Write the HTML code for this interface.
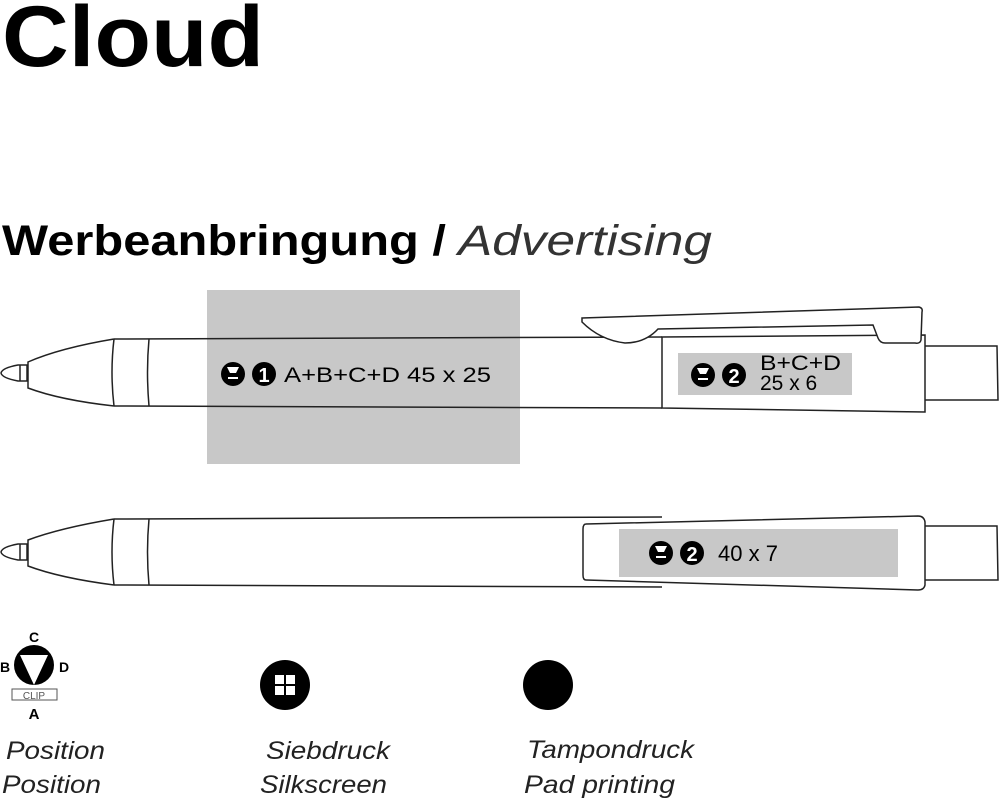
<!DOCTYPE html>
<html><head><meta charset="utf-8"><style>
body{margin:0;background:#fff;width:1000px;height:800px;overflow:hidden;font-family:"Liberation Sans",Arial,sans-serif}
</style></head><body>
<svg width="1000" height="800" viewBox="0 0 1000 800" xmlns="http://www.w3.org/2000/svg" font-family="Liberation Sans, Arial, sans-serif">
<text x="2" y="66" font-size="86" font-weight="bold" fill="#000" textLength="262" lengthAdjust="spacingAndGlyphs">Cloud</text>
<text x="2" y="255" font-size="43" font-weight="bold" fill="#000" textLength="444" lengthAdjust="spacingAndGlyphs">Werbeanbringung /</text>
<text x="458" y="255" font-size="43" font-style="italic" fill="#333" textLength="254" lengthAdjust="spacingAndGlyphs">Advertising</text>

<g fill="none" stroke="#222" stroke-width="1.5">
<rect x="207" y="290" width="313" height="174" fill="#c8c8c8" stroke="none"/>
<path d="M114,339 L662,337 M114,406 L662,408"/>
<path d="M114,339 Q60,348 28,362 L28,388 Q60,400 114,406"/>
<path d="M114,339 Q110,372 114,406 M149,339 Q146,372 149,406"/>
<path d="M27,365 L18,365 Q2,368 1,373 Q2,378 18,381 L27,381 Z M20,365 L20,381"/>
<path d="M662,337 L662,408 L925,412 L925,335 Z" fill="#fff"/>
<path d="M925,346 L997,346 L998,400 L925,400"/>
<path d="M582,318 L919,307 Q923,308 922,312 L921,340 Q920,344 915,343 L885,343 Q880,343 878,338 L873,325 L658,329 Q645,343 625,343 Q600,340 582,322 Z" fill="#fff"/>
<rect x="678" y="353" width="174" height="42" fill="#c8c8c8" stroke="none"/>
<path d="M114,519 L662,517 M114,585 L662,587"/>
<path d="M114,519 Q60,528 28,540 L28,566 Q60,578 114,585"/>
<path d="M114,519 Q110,552 114,585 M149,519 Q146,552 149,585"/>
<path d="M27,544 L18,544 Q2,547 1,552 Q2,557 18,560 L27,560 Z M20,544 L20,560"/>
<path d="M925,526 L997,526 L998,580 L925,580"/>
<path d="M586,524 L918,516 Q924,516 925,522 L925,585 Q924,590 918,590 L586,580 Q583,580 583,575 L583,529 Q583,524 586,524 Z" fill="#fff"/>
<rect x="619" y="529" width="279" height="48" fill="#c8c8c8" stroke="none"/>
</g>

<g fill="#000">
<circle cx="233" cy="374" r="12"/><circle cx="264" cy="374" r="12"/>
<text x="264" y="382" font-size="20" font-weight="bold" fill="#fff" text-anchor="middle">1</text>
<text x="284" y="382" font-size="21" textLength="207" lengthAdjust="spacingAndGlyphs">A+B+C+D  45 x 25</text>
<circle cx="703" cy="375" r="12"/><circle cx="734" cy="375" r="12"/>
<text x="734" y="383" font-size="20" font-weight="bold" fill="#fff" text-anchor="middle">2</text>
<text x="760" y="370" font-size="21" textLength="81" lengthAdjust="spacingAndGlyphs">B+C+D</text>
<text x="760" y="390" font-size="21">25 x 6</text>
<circle cx="661" cy="553" r="12"/><circle cx="692" cy="553" r="12"/>
<text x="692" y="561" font-size="20" font-weight="bold" fill="#fff" text-anchor="middle">2</text>
<text x="718" y="561" font-size="22">40 x 7</text>
</g>
<g fill="#fff">
<path d="M227,367 h12 l-3,6 h-6 z M228,377 h10 v2 h-10 z"/>
<path d="M697,368 h12 l-3,6 h-6 z M698,378 h10 v2 h-10 z"/>
<path d="M655,546 h12 l-3,6 h-6 z M656,556 h10 v2 h-10 z"/>
</g>

<text x="34" y="642" font-size="14" font-weight="bold" text-anchor="middle">C</text>
<text x="5" y="672" font-size="14" font-weight="bold" text-anchor="middle">B</text>
<text x="64" y="672" font-size="14" font-weight="bold" text-anchor="middle">D</text>
<circle cx="34" cy="665" r="20" fill="#000"/>
<path d="M20,655 L48,655 L34,685 Z" fill="#fff"/>
<rect x="12" y="689" width="45" height="11" fill="#fff" stroke="#555"/>
<text x="34" y="699" font-size="10" fill="#555" text-anchor="middle">CLIP</text>
<text x="34" y="719" font-size="15" font-weight="bold" text-anchor="middle">A</text>

<circle cx="285" cy="685" r="25" fill="#000"/>
<g fill="#fff"><rect x="275" y="675" width="9" height="9"/><rect x="286" y="675" width="9" height="9"/><rect x="275" y="686" width="9" height="9"/><rect x="286" y="686" width="9" height="9"/></g>
<circle cx="548" cy="685" r="25" fill="#000"/>

<g font-size="25" font-style="italic" fill="#222" lengthAdjust="spacingAndGlyphs">
<text x="6" y="759" textLength="99" lengthAdjust="spacingAndGlyphs">Position</text>
<text x="2" y="793" textLength="99" lengthAdjust="spacingAndGlyphs">Position</text>
<text x="266" y="759" textLength="124" lengthAdjust="spacingAndGlyphs">Siebdruck</text>
<text x="260" y="793" textLength="127" lengthAdjust="spacingAndGlyphs">Silkscreen</text>
<text x="527" y="758" textLength="167" lengthAdjust="spacingAndGlyphs">Tampondruck</text>
<text x="524" y="793" textLength="151" lengthAdjust="spacingAndGlyphs">Pad printing</text>
</g>
</svg>
</body></html>
